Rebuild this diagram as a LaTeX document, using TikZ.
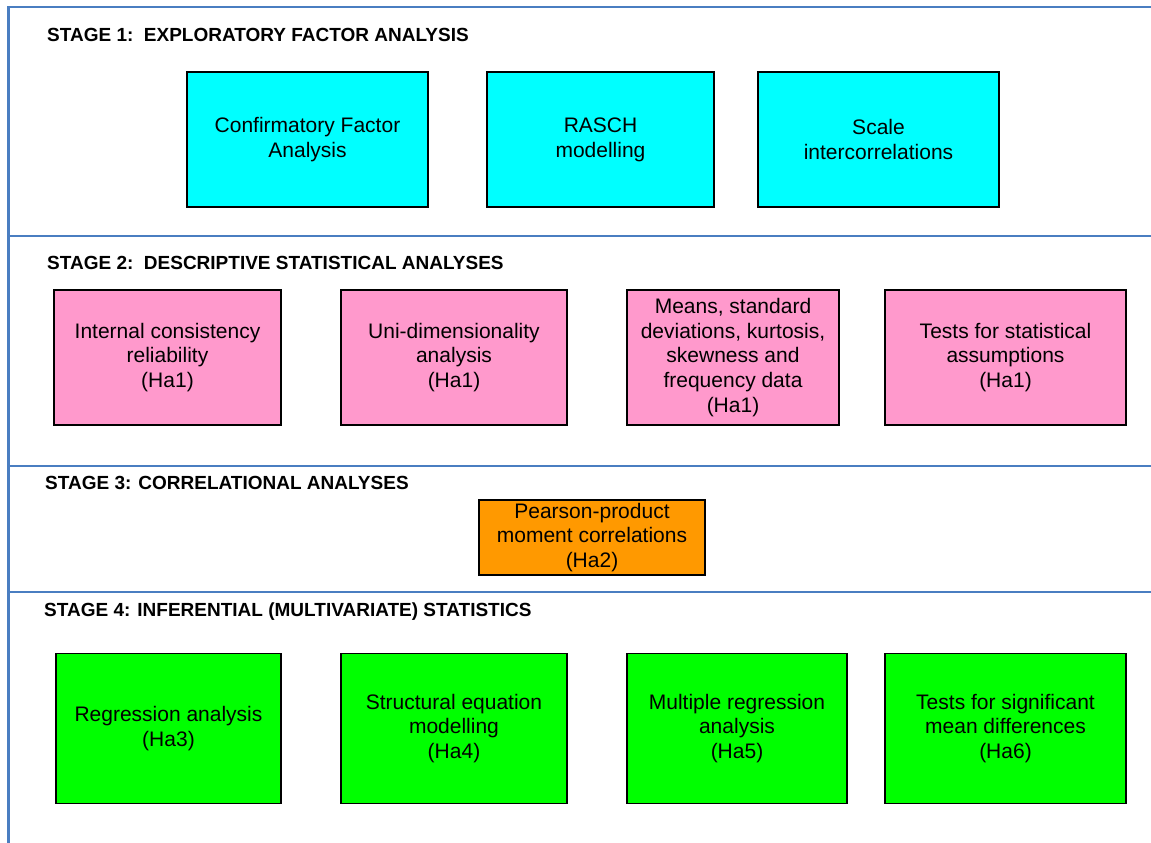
\documentclass[tikz,border=0pt]{standalone}
\usepackage{fontspec}
\setmainfont{Liberation Sans}
\definecolor{frameblue}{RGB}{74,126,193}
\definecolor{stageone}{RGB}{0,255,255}
\definecolor{stagetwo}{RGB}{255,153,204}
\definecolor{stagethree}{RGB}{255,153,0}
\definecolor{stagefour}{RGB}{0,255,0}
\tikzset{
  frame/.style={draw=frameblue, line width=2.8pt},
  stagebox/.style={draw=black, line width=1.2pt, align=center, inner sep=2pt,
    font=\fontsize{21}{24.7}\selectfont},
  stagetitle/.style={anchor=west, inner sep=0pt, font=\fontsize{19}{21}\selectfont\bfseries}
}
\begin{document}
\begin{tikzpicture}[x=1pt,y=-1pt]
\useasboundingbox (0,0) rectangle (1151,843);
% frame of the four stages
\draw[frame] (8.5,843) -- (8.5,7) -- (1151,7);
\draw[frame] (8.5,236) -- (1151,236);
\draw[frame] (8.5,466) -- (1151,466);
\draw[frame] (8.5,592) -- (1151,592);

% stage titles
\node[stagetitle] (t1) at (47,35) {STAGE 1:\ \ EXPLORATORY FACTOR ANALYSIS};
\node[stagetitle] (t2) at (47,263) {STAGE 2:\ \ DESCRIPTIVE STATISTICAL ANALYSES};
\node[stagetitle] (t3) at (45,483) {STAGE 3: CORRELATIONAL ANALYSES};
\node[stagetitle] (t4) at (44,612) {STAGE 4: INFERENTIAL (MULTIVARIATE) STATISTICS};

% stage 1
\node[stagebox, fill=stageone, minimum width=241pt, minimum height=135pt] (cfa) at (307.5,139.5) {Confirmatory Factor\\Analysis};
\node[stagebox, fill=stageone, minimum width=227pt, minimum height=135pt] (rasch) at (600.5,139.5) {RASCH\\modelling};
\node[stagebox, fill=stageone, minimum width=241pt, minimum height=135pt] (scale) at (878.5,139.5) {Scale\\intercorrelations};

% stage 2
\node[stagebox, fill=stagetwo, minimum width=227pt, minimum height=135pt] (icr) at (167.5,357.5) {Internal consistency\\reliability\\(Ha1)};
\node[stagebox, fill=stagetwo, minimum width=226pt, minimum height=135pt] (uni) at (454,357.5) {Uni-dimensionality\\analysis\\(Ha1)};
\node[stagebox, fill=stagetwo, minimum width=212pt, minimum height=135pt] (means) at (733,357.5) {Means, standard\\deviations, kurtosis,\\skewness and\\frequency data\\(Ha1)};
\node[stagebox, fill=stagetwo, minimum width=241pt, minimum height=135pt] (tsa) at (1005.5,357.5) {Tests for statistical\\assumptions\\(Ha1)};

% stage 3
\node[stagebox, fill=stagethree, minimum width=226pt, minimum height=75pt] (pearson) at (592,537.5) {Pearson-product\\moment correlations\\(Ha2)};

% stage 4
\node[stagebox, fill=stagefour, minimum width=225pt, minimum height=150pt] (reg) at (168.5,728.5) {Regression analysis\\(Ha3)};
\node[stagebox, fill=stagefour, minimum width=226pt, minimum height=150pt] (sem) at (454,728.5) {Structural equation\\modelling\\(Ha4)};
\node[stagebox, fill=stagefour, minimum width=220pt, minimum height=150pt] (mra) at (737,728.5) {Multiple regression\\analysis\\(Ha5)};
\node[stagebox, fill=stagefour, minimum width=241pt, minimum height=150pt] (tsmd) at (1005.5,728.5) {Tests for significant\\mean differences\\(Ha6)};
\end{tikzpicture}
\end{document}
